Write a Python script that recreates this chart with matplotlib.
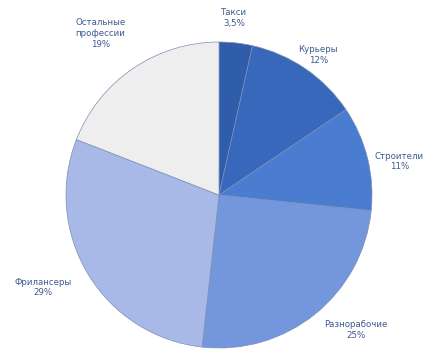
import numpy as np
import matplotlib
matplotlib.use("Agg")
import matplotlib.pyplot as plt

categories = ["Такси", "Курьеры", "Строители", "Разнорабочие", "Фрилансеры", "Остальные\nпрофессии"]
values = [3.5, 12, 11, 25, 29, 19]
value_labels = ["3,5%", "12%", "11%", "25%", "29%", "19%"]

colors = ["#2F5DAA", "#3768BC", "#4A7CD0", "#7396DC", "#A8B8E7", "#EEEEEE"]
label_dist = [1.16, 1.12, 1.20, 1.26, 1.30, 1.31]
label_angle_shift = [1.5, -1.0, -3.5, 6.5, -3.5, 2.0]

W, H = 433, 350
fig = plt.figure(figsize=(W / 100, H / 100), dpi=100)
cx, cy, r = 219, 195, 153
ax = fig.add_axes([(cx - r) / W, (H - cy - r) / H, 2 * r / W, 2 * r / H])
ax.set_aspect("equal")
ax.axis("off")

wedges, _ = ax.pie(values, colors=colors, startangle=90, counterclock=False,
                   radius=1.0, center=(0, 0), frame=False,
                   wedgeprops=dict(edgecolor="#7C8DB5", linewidth=0.5))
for w in wedges:
    w.set_clip_on(False)

ax.set_xlim(-1, 1)
ax.set_ylim(-1, 1)

for i, w in enumerate(wedges):
    mid = np.deg2rad((w.theta1 + w.theta2) / 2 + label_angle_shift[i])
    d = label_dist[i]
    ax.text(d * np.cos(mid), d * np.sin(mid), categories[i] + "\n" + value_labels[i],
            ha="center", va="center", fontsize=6.2, color="#3B5A8E",
            family="DejaVu Sans", linespacing=1.25, clip_on=False)

fig.savefig("out.png", dpi=100)
